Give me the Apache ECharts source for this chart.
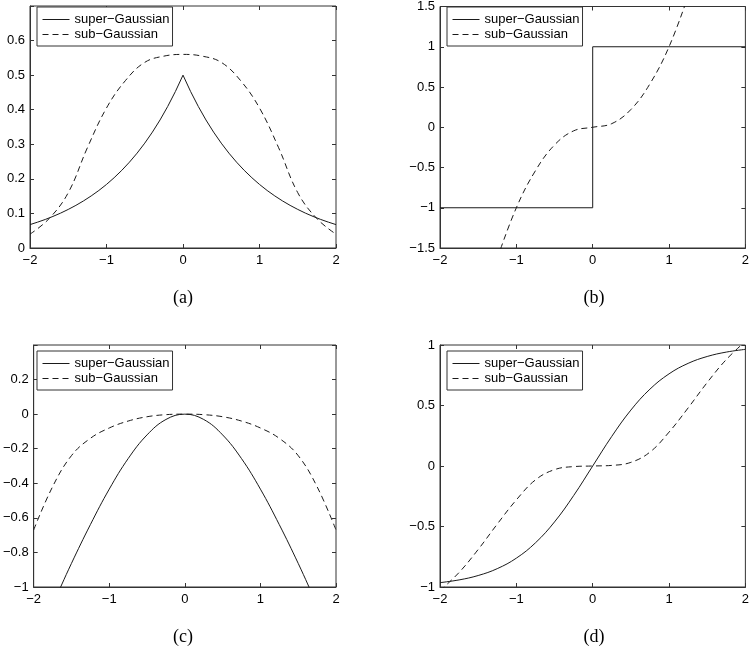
<!DOCTYPE html>
<html><head><meta charset="utf-8">
<script src="https://cdn.jsdelivr.net/npm/echarts@6/dist/echarts.min.js"></script>
<style>html,body{margin:0;padding:0;background:#fff}#c{width:752px;height:649px}</style>
</head><body><div id="c"></div>
<script>
// ---- data ----
const seriesNames = ['super\u2212Gaussian', 'sub\u2212Gaussian'];
const panelLabels = ['(a)', '(b)', '(c)', '(d)'];
const xTicks = [-2, -1, 0, 1, 2];
const xFine = [-2,-1.9,-1.8,-1.7,-1.6,-1.5,-1.4,-1.3,-1.2,-1.1,-1,-0.9,-0.8,-0.7,-0.6,-0.5,-0.4,-0.3,-0.2,-0.1,0,
               0.1,0.2,0.3,0.4,0.5,0.6,0.7,0.8,0.9,1,1.1,1.2,1.3,1.4,1.5,1.6,1.7,1.8,1.9,2];
const xGrid = [-2,-1.75,-1.5,-1.25,-1,-0.75,-0.5,-0.25,0,0.25,0.5,0.75,1,1.25,1.5,1.75,2];
// (a) densities
const aSuper = [0.0677,0.0748,0.0826,0.0913,0.1009,0.1116,0.1233,0.1363,0.1506,0.1664,0.1839,0.2033,0.2247,0.2483,0.2744,0.3033,0.3352,0.3704,0.4094,0.4524,0.5,
                0.4524,0.4094,0.3704,0.3352,0.3033,0.2744,0.2483,0.2247,0.2033,0.1839,0.1664,0.1506,0.1363,0.1233,0.1116,0.1009,0.0913,0.0826,0.0748,0.0677];
const aSub = [0.04,0.085,0.16,0.29,0.405,0.485,0.537,0.555,0.56,0.555,0.537,0.485,0.405,0.29,0.16,0.085,0.04];
// (b)
const bSuperX = [-2, 0, 0, 2];
const bSuper = [-1, -1, 1, 1];
const bSubX = [-1.25,-1,-0.75,-0.5,-0.25,0,0.25,0.5,0.75,1,1.25];
const bSub = [-1.63,-1,-0.54,-0.22,-0.045,0,0.045,0.22,0.54,1,1.63];
// (c)
const cSuper = [-1.325,-1.1016,-0.8634,-0.6395,-0.4338,-0.2573,-0.1201,-0.0309,0,-0.0309,-0.1201,-0.2573,-0.4338,-0.6395,-0.8634,-1.1016,-1.325];
const cSub = [-0.67,-0.42,-0.24,-0.14,-0.08,-0.04,-0.015,-0.003,0,-0.003,-0.015,-0.04,-0.08,-0.14,-0.24,-0.42,-0.67];
// (d)
const dSuper = [-0.964,-0.9414,-0.9051,-0.8483,-0.7616,-0.6351,-0.4621,-0.2449,0,0.2449,0.4621,0.6351,0.7616,0.8483,0.9051,0.9414,0.964];
const dSub = [-1.03,-0.88,-0.69,-0.48,-0.28,-0.115,-0.03,-0.005,0,0.005,0.03,0.115,0.28,0.48,0.69,0.88,1.03];
// y axis ranges
const yMin = [0, -1.5, -1, -1];
const yMax = [0.7, 1.5, 0.4, 1];
const yStep = [0.1, 0.5, 0.2, 0.5];
const yHideTop = [true, false, true, false];

// ---- layout ----
const rects = [[30, 6, 306, 242], [440, 6, 307, 242], [30, 345, 306, 242], [440, 345, 307, 242]];
const legendPos = [[37, 7], [447, 7], [37, 351], [447, 351]];
const captionPos = [[183, 298], [594, 298], [183, 637], [594, 637]];

const zip = (xs, ys) => xs.map((x, i) => [x, ys[i]]);
const fmt = v => String(Number(v.toFixed(3))).replace('-', '\u2212');
const axisColor = '#333';
const lineColor = '#1a1a1a';
const tickFont = { fontFamily: 'Liberation Sans, Arial, sans-serif', fontSize: 13, color: '#000' };

const grids = [], xAxes = [], yAxes = [], legends = [], series = [], graphics = [];
rects.forEach((r, i) => {
  grids.push({ left: r[0], top: r[1], width: r[2], height: r[3], show: true, borderColor: axisColor, borderWidth: 1, containLabel: false });
  const common = { gridIndex: i, type: 'value', splitLine: { show: false } };
  const tick = { show: true, inside: true, length: 4, lineStyle: { color: axisColor } };
  xAxes.push(Object.assign({}, common, {
    position: 'bottom', min: xTicks[0], max: xTicks[xTicks.length - 1], interval: 1,
    axisLine: { show: true, onZero: false, lineStyle: { color: axisColor, width: 1 } },
    axisTick: tick,
    axisLabel: Object.assign({ margin: 6, formatter: fmt }, tickFont)
  }));
  xAxes.push(Object.assign({}, common, {
    position: 'top', min: xTicks[0], max: xTicks[xTicks.length - 1], interval: 1,
    axisLine: { show: false, onZero: false }, axisTick: tick,
    axisLabel: { show: false }
  }));
  const hide = yHideTop[i], top = yMax[i];
  yAxes.push(Object.assign({}, common, {
    position: 'left', min: yMin[i], max: yMax[i], interval: yStep[i],
    axisLine: { show: true, onZero: false, lineStyle: { color: axisColor, width: 1 } },
    axisTick: tick,
    axisLabel: Object.assign({ margin: 5, formatter: v => (hide && Math.abs(v - top) < 1e-9) ? '' : fmt(v) }, tickFont)
  }));
  yAxes.push(Object.assign({}, common, {
    position: 'right', min: yMin[i], max: yMax[i], interval: yStep[i],
    axisLine: { show: false, onZero: false }, axisTick: tick,
    axisLabel: { show: false }
  }));
  legends.push({
    left: legendPos[i][0], top: legendPos[i][1], orient: 'vertical', selectedMode: false,
    data: seriesNames, itemWidth: 27, itemHeight: 13, itemGap: 2,
    padding: [6, 3, 5, 5], borderColor: axisColor, borderWidth: 1, backgroundColor: '#fff',
    itemStyle: { color: 'rgba(0,0,0,0)', borderColor: 'rgba(0,0,0,0)', borderWidth: 0, opacity: 0 },
    lineStyle: { width: 1 },
    textStyle: { fontFamily: 'Liberation Sans, Arial, sans-serif', fontSize: 13, color: '#000' }
  });
  graphics.push({ type: 'text', x: captionPos[i][0], y: captionPos[i][1],
    style: { text: panelLabels[i], font: '18px "Liberation Serif", "Times New Roman", serif', fill: '#000', textAlign: 'center', textVerticalAlign: 'middle' } });
});

function addLine(panel, name, data, dashed, smooth) {
  series.push({
    type: 'line', name: name, xAxisIndex: panel * 2, yAxisIndex: panel * 2, data: data,
    symbol: 'none', smooth: smooth, clip: true, animation: false, z: 3,
    lineStyle: { color: lineColor, width: 1, type: dashed ? [6, 4] : 'solid' },
    itemStyle: { color: lineColor }
  });
}
addLine(0, seriesNames[0], zip(xFine, aSuper), false, false);
addLine(0, seriesNames[1], zip(xGrid, aSub), true, 0.4);
addLine(1, seriesNames[0], zip(bSuperX, bSuper), false, false);
addLine(1, seriesNames[1], zip(bSubX, bSub), true, 0.4);
addLine(2, seriesNames[0], zip(xGrid, cSuper), false, 0.4);
addLine(2, seriesNames[1], zip(xGrid, cSub), true, 0.4);
addLine(3, seriesNames[0], zip(xGrid, dSuper), false, 0.4);
addLine(3, seriesNames[1], zip(xGrid, dSub), true, 0.4);

const chart = echarts.init(document.getElementById('c'), null, { renderer: 'canvas' });
chart.setOption({
  animation: false, backgroundColor: '#fff',
  grid: grids, xAxis: xAxes, yAxis: yAxes, legend: legends, series: series, graphic: graphics
});
</script></body></html>
